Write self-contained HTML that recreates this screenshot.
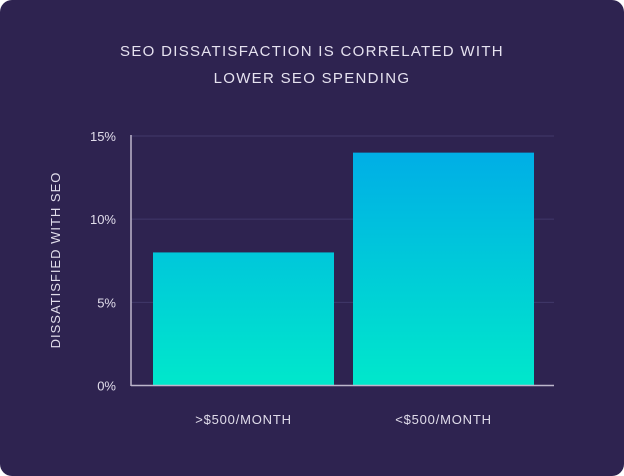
<!DOCTYPE html>
<html><head><meta charset="utf-8"><style>
html,body{margin:0;padding:0;background:#fff;}
body{width:624px;height:476px;overflow:hidden;}
svg{display:block;font-family:"Liberation Sans",sans-serif;}
</style></head><body>
<svg width="624" height="476">
<defs>
<linearGradient id="g" gradientUnits="userSpaceOnUse" x1="0" y1="136" x2="0" y2="386">
<stop offset="0" stop-color="#00aae8"/><stop offset="1" stop-color="#00e8cb"/>
</linearGradient>
</defs>
<rect x="0" y="0" width="624" height="476" rx="12" fill="#2e2350"/>
<text x="312" y="56" text-anchor="middle" fill="#e6e2f0" font-size="15" letter-spacing="1.3">SEO DISSATISFACTION IS CORRELATED WITH</text>
<text x="312" y="83" text-anchor="middle" fill="#e6e2f0" font-size="15" letter-spacing="1.3">LOWER SEO SPENDING</text>
<text transform="translate(60,260) rotate(-90)" text-anchor="middle" fill="#e0dcea" font-size="13" letter-spacing="1">DISSATISFIED WITH SEO</text>
<g id="grid"></g>
<g id="bars"></g>
<line x1="131" y1="135" x2="131" y2="386" stroke="#bdb6cc" stroke-width="1.5"/>
<line x1="131" y1="385.5" x2="554" y2="385.5" stroke="#bdb6cc" stroke-width="1.5"/>
<g id="labels"></g>
</svg>
<script>
const categories=[">$500/MONTH","<$500/MONTH"];
const values=[8,14];
const ticks=[0,5,10,15];
const tickLabels=["0%","5%","10%","15%"];
const NS="http://www.w3.org/2000/svg";
function y(v){return 385.5-(385.5-136)*v/15;}
const x0=131,bandW=(554-131-23)/2,pad=22;
function bx(i){return 153+i*200;}
const grid=document.getElementById('grid'),bars=document.getElementById('bars'),labels=document.getElementById('labels');
ticks.forEach((t,i)=>{
 if(t>0){const l=document.createElementNS(NS,'line');
 
 
 l.setAttribute('x1',131);l.setAttribute('x2',554);l.setAttribute('y1',y(t));l.setAttribute('y2',y(t));
 l.setAttribute('stroke','#41386a');l.setAttribute('stroke-width','1');grid.appendChild(l);}
 const tx=document.createElementNS(NS,'text');
 
 
 tx.setAttribute('x',116);tx.setAttribute('y',y(t)+5);tx.setAttribute('text-anchor','end');
 tx.setAttribute('fill','#e0dcea');tx.setAttribute('font-size','13');tx.textContent=tickLabels[i];labels.appendChild(tx);
});
categories.forEach((c,i)=>{
 const r=document.createElementNS(NS,'rect');
 
 
 r.setAttribute('x',bx(i));r.setAttribute('width',181);r.setAttribute('y',y(values[i]));r.setAttribute('height',385.5-y(values[i]));
 r.setAttribute('fill','url(#g)');bars.appendChild(r);
 const tx=document.createElementNS(NS,'text');
 
 
 tx.setAttribute('x',bx(i)+90.5);tx.setAttribute('y',424);tx.setAttribute('text-anchor','middle');
 tx.setAttribute('fill','#e0dcea');tx.setAttribute('font-size','13');tx.setAttribute('letter-spacing','0.8');tx.textContent=c;labels.appendChild(tx);
});
</script>
</body></html>
